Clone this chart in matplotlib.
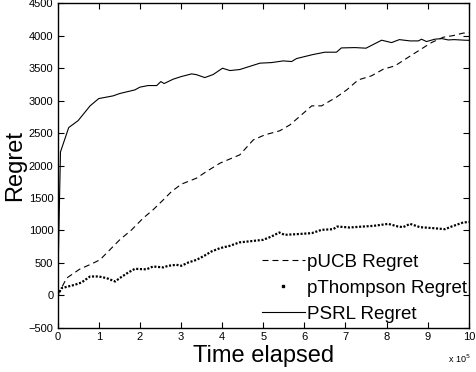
import matplotlib
matplotlib.use("Agg")
import matplotlib.pyplot as plt
from matplotlib.lines import Line2D

plt.rcParams['font.family'] = ['Liberation Sans', 'DejaVu Sans']
plt.rcParams['lines.scale_dashes'] = False

# Valores (x en unidades de 1e5)
psrl_x = [0, 0.07, 0.27, 0.5, 0.79, 1.0, 1.35, 1.51, 1.88, 2.0, 2.2, 2.41, 2.51, 2.59, 2.81,
          3.01, 3.26, 3.38, 3.58, 3.78, 4.01, 4.19, 4.43, 4.92, 5.2, 5.49, 5.69, 5.81, 6.21,
          6.5, 6.78, 6.9, 7.23, 7.5, 7.88, 8.12, 8.31, 8.57, 8.77, 8.85, 8.97, 9.17, 9.34,
          9.5, 9.64, 9.9, 10]
psrl_y = [0, 2210, 2585, 2693, 2920, 3032, 3074, 3110, 3166, 3208, 3233, 3233, 3294, 3264, 3331,
          3372, 3413, 3400, 3356, 3402, 3500, 3464, 3480, 3578, 3587, 3613, 3603, 3649, 3711,
          3747, 3747, 3813, 3818, 3809, 3932, 3895, 3941, 3921, 3921, 3947, 3911, 3947, 3957,
          3936, 3941, 3932, 3930]

pucb_x = [0, 0.22, 0.54, 0.83, 1.03, 1.27, 1.51, 1.8, 2.08, 2.32, 2.57, 2.77, 3.01, 3.38, 3.62,
          3.95, 4.43, 4.76, 5.04, 5.4, 5.65, 5.93, 6.18, 6.42, 6.78, 7.03, 7.31, 7.63, 7.92,
          8.2, 8.49, 8.81, 9.09, 9.38, 9.62, 9.85, 10]
pucb_y = [0, 265, 404, 485, 547, 701, 855, 1009, 1189, 1317, 1471, 1599, 1713, 1806, 1908,
          2037, 2165, 2396, 2473, 2535, 2627, 2781, 2920, 2920, 3054, 3166, 3320, 3382, 3485,
          3536, 3654, 3783, 3895, 3978, 4003, 4040, 4050]

pthom_x = [0, 0.1, 0.22, 0.42, 0.58, 0.79, 1.0, 1.19, 1.4, 1.51, 1.72, 1.88, 2.16, 2.32, 2.57,
           2.69, 2.89, 3.01, 3.18, 3.38, 3.58, 3.74, 3.95, 4.19, 4.42, 5.0, 5.2, 5.39, 5.52,
           5.81, 6.18, 6.42, 6.7, 6.8, 7.1, 7.43, 7.68, 8.04, 8.28, 8.4, 8.57, 8.81, 9.13,
           9.42, 9.58, 9.86, 10]
pthom_y = [0, 111, 130, 162, 197, 290, 290, 265, 213, 265, 352, 408, 400, 444, 430,
           455, 470, 455, 506, 547, 614, 675, 727, 763, 815, 855, 906, 968, 932,
           942, 958, 1009, 1019, 1060, 1045, 1060, 1070, 1101, 1060, 1050, 1101, 1050, 1035,
           1019, 1060, 1122, 1130]

fig = plt.figure(figsize=(4.76, 3.72), dpi=100)
ax = fig.add_axes([0.121, 0.119, 0.864, 0.872])

ax.plot(pucb_x, pucb_y, color='k', lw=0.8, linestyle=(0, (4.3, 2.9)))
ax.plot(pthom_x, pthom_y, color='k', lw=1.6, linestyle=(0, (1.5, 1.2)))
ax.plot(psrl_x, psrl_y, color='k', lw=0.8)

ax.set_xlim(0, 10)
ax.set_ylim(-500, 4500)
ax.set_xticks(range(0, 11))
ax.set_yticks(range(-500, 4501, 500))
ax.set_yticklabels(['\u2212500' if v < 0 else str(v) for v in range(-500, 4501, 500)])
ax.tick_params(direction='in', top=True, right=True, length=4, width=0.8,
               labelsize=8, pad=3)
for s in ax.spines.values():
    s.set_linewidth(1.0)

ax.set_xlabel('Time elapsed', fontsize=17, labelpad=2)
ax.set_ylabel('Regret', fontsize=17, labelpad=2)
ax.text(1.003, -0.078, 'x 10$^5$', transform=ax.transAxes, ha='right', va='top', fontsize=6.5)

handles = [Line2D([], [], color='k', lw=0.8, linestyle=(0, (4.3, 2.9))),
           Line2D([], [], color='k', lw=0, marker='s', markersize=1.8),
           Line2D([], [], color='k', lw=0.8)]
ax.legend(handles, ['pUCB Regret', 'pThompson Regret', 'PSRL Regret'],
          loc='lower right', bbox_to_anchor=(1.022, -0.02), frameon=False, fontsize=13.5,
          handlelength=2.3, handletextpad=0.1, labelspacing=0.48, borderaxespad=0.2)

fig.savefig('out.png', dpi=100)
